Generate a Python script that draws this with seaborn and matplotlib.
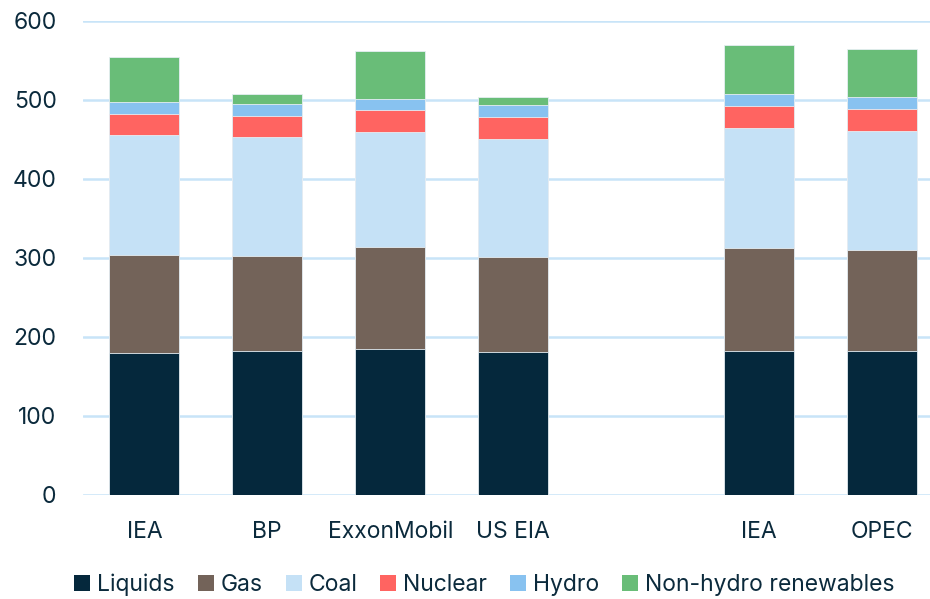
import numpy as np
import pandas as pd
import seaborn as sns
import matplotlib.pyplot as plt
from matplotlib.patches import Patch

# categories (blank slot between the two groups)
keys = ["IEA_a", "BP", "ExxonMobil", "US EIA", "gap", "IEA_b", "OPEC"]
tick_labels = ["IEA", "BP", "ExxonMobil", "US EIA", "", "IEA", "OPEC"]

liquids = [180, 182, 184, 181, np.nan, 182, 182]
gas = [124, 120, 130, 120, np.nan, 130, 128]
coal = [151, 151, 146, 150, np.nan, 152, 151]
nuclear = [27, 27, 27, 27, np.nan, 28, 28]
hydro = [15, 15, 14, 15, np.nan, 15, 15]
renewables = [58, 13, 61, 11, np.nan, 62, 61]

series = ["Liquids", "Gas", "Coal", "Nuclear", "Hydro", "Non-hydro renewables"]
colors = ["#05283c", "#736359", "#c5e1f6", "#ff6461", "#88c2f0", "#69bd78"]
text_color = "#0b2a3c"

df = pd.DataFrame({"source": keys, "Liquids": liquids, "Gas": gas, "Coal": coal,
                   "Nuclear": nuclear, "Hydro": hydro,
                   "Non-hydro renewables": renewables})

sns.set_style("white")
plt.rcParams["font.family"] = ["Inter", "DejaVu Sans"]

fig = plt.figure(figsize=(9.30, 5.99), dpi=100)
ax = fig.add_axes([0.0892, 0.174, 0.925, 0.791])

# stacked bars: draw cumulative totals from top down
cum = df[series].cumsum(axis=1)
for name, col in reversed(list(zip(series, colors))):
    sns.barplot(x=df["source"], y=cum[name], order=keys, color=col,
                width=0.57, edgecolor="#e6eef3", linewidth=0.6,
                saturation=1, ax=ax, zorder=3)

ax.set_ylim(0, 600)
ax.set_xlim(-0.5, 6.5)
ax.set_yticks(range(0, 601, 100))
ax.set_xticks(range(len(keys)))
ax.set_xticklabels(tick_labels)
ax.yaxis.grid(True, color="#c8e4f8", linewidth=1.8, zorder=0)
ax.xaxis.grid(False)
for s in ax.spines.values():
    s.set_visible(False)
ax.tick_params(axis="both", length=0, labelsize=16.5, colors=text_color)
ax.tick_params(axis="y", pad=19)
ax.tick_params(axis="x", pad=19)
ax.set_xlabel("")
ax.set_ylabel("")

handles = [Patch(facecolor=c, edgecolor="none", label=n) for n, c in zip(series, colors)]
leg = fig.legend(handles=handles, loc="center", bbox_to_anchor=(0.521, 0.024), ncol=6,
                 frameon=False, fontsize=16.5, handlelength=0.7, handleheight=0.7,
                 handletextpad=0.3, columnspacing=1.0)
for t in leg.get_texts():
    t.set_color(text_color)

fig.savefig("out.png", dpi=100)
